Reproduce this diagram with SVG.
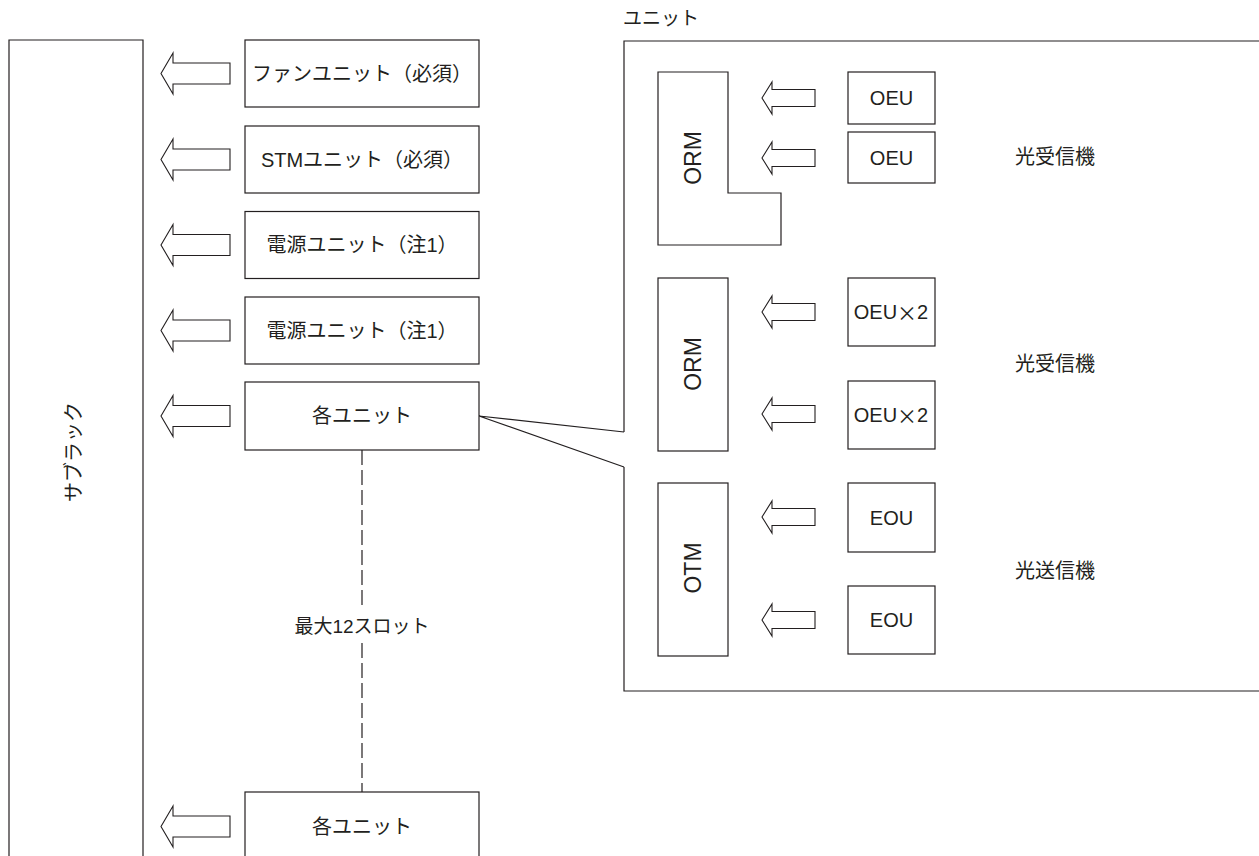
<svg xmlns="http://www.w3.org/2000/svg" xmlns:xlink="http://www.w3.org/1999/xlink" width="1259" height="856" viewBox="0 0 1259 856">
<style>
.ln{fill:none;stroke:#231f20;stroke-width:1.2}
.bx{fill:#fff;stroke:#231f20;stroke-width:1.2}
.t{font-family:"Liberation Sans","Noto Sans CJK JP",sans-serif;fill:#231f20;text-anchor:middle;dominant-baseline:central}
.t20{font-size:20px}
.t19{font-size:19px}
.t23{font-size:23px}
</style>
<defs>
<path id="bigArrow" d="M0,0 L12,-20.5 L12,-10.5 L69,-10.5 L69,10.5 L12,10.5 L12,20.5 Z" fill="#fff" stroke="#231f20" stroke-width="1.1"/>
<path id="smArrow" d="M0,0 L10,-16 L10,-8.5 L53,-8.5 L53,8.5 L10,8.5 L10,16 Z" fill="#fff" stroke="#231f20" stroke-width="1.1"/>
</defs>
<rect width="1259" height="856" fill="#fff"/>

<g id="connectors">
<use xlink:href="#bigArrow" x="161" y="73.5"/>
<use xlink:href="#bigArrow" x="161" y="159.5"/>
<use xlink:href="#bigArrow" x="161" y="245"/>
<use xlink:href="#bigArrow" x="161" y="330.5"/>
<use xlink:href="#bigArrow" x="161" y="416"/>
<use xlink:href="#bigArrow" x="161" y="826.5"/>
<use xlink:href="#smArrow" x="762" y="98"/>
<use xlink:href="#smArrow" x="762" y="158"/>
<use xlink:href="#smArrow" x="762" y="312"/>
<use xlink:href="#smArrow" x="762" y="414"/>
<use xlink:href="#smArrow" x="762" y="517"/>
<use xlink:href="#smArrow" x="762" y="620"/>
<path class="ln" d="M479,416 L624,432 M479,416 L624,467"/>
<path class="ln" d="M362,450 V608 M362,643 V792" stroke-dasharray="15,5"/>
</g>

<g id="subrack">
<path class="ln" d="M9,860 V40 H143 V860"/>
<text class="t t20" transform="translate(74,452) rotate(-90)">サブラック</text>
</g>

<g id="fan-unit">
<rect class="bx" x="245" y="40" width="234" height="67"/>
<text class="t t20" x="362" y="73.5">ファンユニット（必須）</text>
</g>
<g id="stm-unit">
<rect class="bx" x="245" y="126" width="234" height="67"/>
<text class="t t20" x="362" y="159.5">STMユニット（必須）</text>
</g>
<g id="power-unit-1">
<rect class="bx" x="245" y="211.5" width="234" height="67"/>
<text class="t t20" x="362" y="245">電源ユニット（注1）</text>
</g>
<g id="power-unit-2">
<rect class="bx" x="245" y="297" width="234" height="67"/>
<text class="t t20" x="362" y="330.5">電源ユニット（注1）</text>
</g>
<g id="each-unit-1">
<rect class="bx" x="245" y="382" width="234" height="68"/>
<text class="t t20" x="362" y="416">各ユニット</text>
</g>
<g id="max-slots">
<text class="t t19" x="362" y="626">最大12スロット</text>
</g>
<g id="each-unit-2">
<rect class="bx" x="245" y="792" width="234" height="70"/>
<text class="t t20" x="362" y="826.5">各ユニット</text>
</g>

<g id="unit-frame">
<text class="t t19" x="661" y="18">ユニット</text>
<path class="ln" d="M1262,41 H624 V432 M624,467 V691 H1262"/>
</g>

<g id="orm-1">
<path class="bx" d="M658,72 H728 V193 H781 V245 H658 Z"/>
<text class="t t23" transform="translate(693,158) rotate(-90)">ORM</text>
</g>
<g id="oeu-1">
<rect class="bx" x="848" y="72" width="87" height="52"/>
<text class="t t20" x="891.5" y="98">OEU</text>
</g>
<g id="oeu-2">
<rect class="bx" x="848" y="132" width="87" height="51"/>
<text class="t t20" x="891.5" y="157.5">OEU</text>
</g>
<g id="rx-label-1"><text class="t t20" x="1055" y="157">光受信機</text></g>

<g id="orm-2">
<rect class="bx" x="658" y="278" width="70" height="173"/>
<text class="t t23" transform="translate(693,364) rotate(-90)">ORM</text>
</g>
<g id="oeu-x2-1">
<rect class="bx" x="848" y="278" width="87" height="68"/>
<text class="t t20" x="891" y="312">OEU<tspan font-family="Noto Sans CJK JP">×</tspan>2</text>
</g>
<g id="oeu-x2-2">
<rect class="bx" x="848" y="381" width="87" height="68"/>
<text class="t t20" x="891" y="415">OEU<tspan font-family="Noto Sans CJK JP">×</tspan>2</text>
</g>
<g id="rx-label-2"><text class="t t20" x="1055" y="364">光受信機</text></g>

<g id="otm">
<rect class="bx" x="658" y="483" width="70" height="173"/>
<text class="t t23" transform="translate(693,568) rotate(-90)">OTM</text>
</g>
<g id="eou-1">
<rect class="bx" x="848" y="483" width="87" height="69"/>
<text class="t t20" x="891.5" y="517.5">EOU</text>
</g>
<g id="eou-2">
<rect class="bx" x="848" y="586" width="87" height="68"/>
<text class="t t20" x="891.5" y="620">EOU</text>
</g>
<g id="tx-label"><text class="t t20" x="1055" y="571">光送信機</text></g>
</svg>
